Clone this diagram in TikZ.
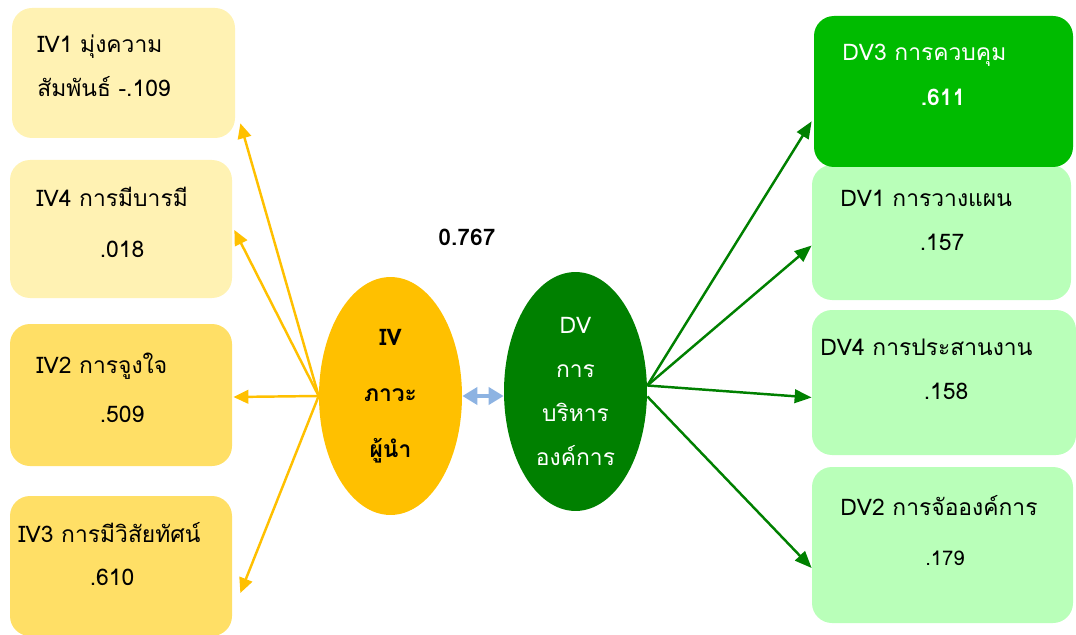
\documentclass[tikz,border=0pt]{standalone}
\usepackage{fontspec}
\usetikzlibrary{arrows.meta,shapes.geometric,calc}
\newfontfamily\thaifont[Script=Thai]{Loma}
\definecolor{ivlight}{HTML}{FFF2B3}
\definecolor{ivmid}{HTML}{FFDF66}
\definecolor{ivgold}{HTML}{FFC000}
\definecolor{dvdark}{HTML}{008000}
\definecolor{dvmid}{HTML}{00BB00}
\definecolor{dvlight}{HTML}{B9FFB9}
\definecolor{corrblue}{HTML}{8DB3E2}
\newcommand{\thaisize}[1]{\thaifont\fontsize{13}{#1}\selectfont}

\begin{document}
\begin{tikzpicture}[x=0.02cm,y=-0.02cm,font=\thaisize{16},
  factorbox/.style={rectangle,rounded corners=0.4cm,inner sep=0pt},
  yarrow/.style={ivgold,line width=1.4pt,-{Triangle[length=0.3cm,width=0.27cm]}},
  garrow/.style={dvdark,line width=1.4pt,-{Triangle[length=0.34cm,width=0.27cm]}}]
  \useasboundingbox (0,0) rectangle (1076,635);
  \foreach \n/\x/\y/\w/\h/\c in {iv1/123.5/73/223/130/ivlight,iv4/121/229/222/138/ivlight,
      iv2/121/395/222/142/ivmid,iv3/121/566/222/140/ivmid,dv1/941.5/232.5/259/135/dvlight,
      dv3/943.5/91.5/259/151/dvmid,dv4/944/382.5/264/145/dvlight,dv2/942.5/545/261/156/dvlight}{%
    \node[factorbox,fill=\c,minimum width=\w*0.02cm,minimum height=\h*0.02cm] (\n) at (\x,\y) {};}
  \foreach \n/\x/\y/\t in {iv1a/37/53/{IV1 มุ่งความ},iv1b/37/97/{สัมพันธ์ -.109},
      iv4a/36/207/{IV4 การมีบารมี},iv2a/36/373/{IV2 การจูงใจ},iv3a/18/542/{IV3 การมีวิสัยทัศน์},
      dv1a/840/207/{DV1 การวางแผน},dv4a/820/355/{DV4 การประสานงาน},dv2a/840/515/{DV2 การจัอองค์การ}}{%
    \node[anchor=base west,inner sep=0pt] (\n) at (\x,\y) {\t};}
  \foreach \n/\x/\y/\t in {iv4b/122/257/.018,iv2b/122/422/.509,iv3b/112/585/.610,
      dv1b/942/251/.157,dv4b/946/399/.158}{%
    \node[anchor=base,inner sep=0pt] (\n) at (\x,\y) {\t};}
  \node[anchor=base,inner sep=0pt,font=\thaifont\fontsize{11.5}{14}\selectfont] (dv2b) at (945,565) {.179};
  \node[anchor=base west,inner sep=0pt,text=white] (dv3a) at (842,61) {DV3 การควบคุม};
  \node[anchor=base,inner sep=0pt,text=white,font=\thaisize{16}\bfseries] (dv3b) at (943,106) {.611};
  \node[ellipse,fill=ivgold,inner sep=0pt,minimum width=2.86cm,minimum height=4.76cm,align=center,
    font=\thaisize{32}\bfseries] (iv) at (390.5,396) {IV\\ภาวะ\\ผู้นำ};
  \node[ellipse,fill=dvdark,text=white,inner sep=0pt,minimum width=2.86cm,minimum height=4.78cm,
    align=center,font=\thaisize{25}] (dv) at (575.5,391.5) {DV\\การ\\บริหาร\\องค์การ};
  \node[anchor=base,inner sep=0pt,font=\thaisize{16}\bfseries] (corr) at (467,245) {0.767};
  \foreach \b/\o in {iv1.south east/{5,-15},iv4.east/{2,1},iv2.east/{1,2},iv3.east/{8,27}}{%
    \draw[yarrow] (iv.west) -- ($(\b)+(\o)$);}
  \foreach \b/\o in {dv3.south west/{-2,-46},dv1.west/{0,13},dv4.west/{0,15}}{%
    \draw[garrow] ($(dv.east)+(0,-6)$) -- ($(\b)+(\o)$);}
  \draw[garrow] ($(dv.east)+(0,5)$) -- ($(dv2.west)+(0,23)$);
  \draw[corrblue,line width=2.6pt,{Triangle[length=0.3cm,width=0.34cm]}-{Triangle[length=0.3cm,width=0.34cm]}]
    (iv.east) -- (iv.east -| dv.west);
\end{tikzpicture}
\end{document}
